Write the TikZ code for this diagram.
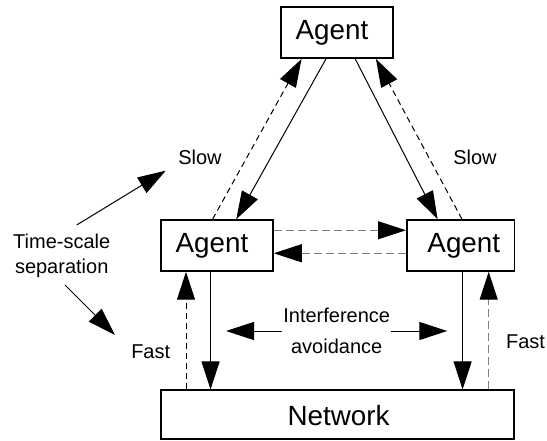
\documentclass[tikz,border=0pt]{standalone}
\usepackage{fontspec}
\setmainfont{Liberation Sans}
\usetikzlibrary{arrows.meta}
\begin{document}
\begin{tikzpicture}[x=1pt,y=-1pt,
  box/.style={draw,line width=1.5pt,minimum height=51pt,inner sep=0pt},
  bigtext/.style={font=\fontsize{27.8}{30}\selectfont},
  smalltext/.style={font=\fontsize{20}{25}\selectfont,inner sep=1pt},
  tip/.style={-{Triangle[length=28pt,width=18pt,black]}},
  solidlink/.style={tip,line width=1pt},
  dashlink/.style={tip,line width=1pt,dash pattern=on 6pt off 4pt},
  graylink/.style={tip,line width=1pt,draw=black!50,dash pattern=on 8pt off 4pt}
]
\useasboundingbox (0,0) rectangle (547,441);

% agents and network
\node[box,minimum width=112pt,label={[bigtext,xshift=-5pt]center:Agent}] (top) at (337,32.7) {};
\node[box,minimum width=112pt,label={[bigtext,xshift=-5pt]center:Agent}] (left) at (217,245.5) {};
\node[box,minimum width=107.5pt,label={[bigtext,xshift=3.3pt]center:Agent}] (right) at (460.5,245.5) {};
\node[box,minimum width=353pt,minimum height=49pt,label={[bigtext,xshift=1pt,yshift=-1pt]center:Network}] (net) at (337.5,414.7) {};

% slow links between the upper agent and the lower agents
\draw[solidlink] ([xshift=45.7pt]top.south west) -- ([xshift=76pt]left.north west);
\draw[dashlink] ([xshift=52.3pt]left.north west) -- ([xshift=21.3pt]top.south west);
\draw[solidlink] ([xshift=75pt]top.south west) -- ([xshift=31.6pt]right.north west);
\draw[dashlink] ([xshift=56pt]right.north west) -- ([xshift=95.7pt]top.south west);

% links between the lower agents
\draw[graylink] ([yshift=-11pt]left.north east) -- ([yshift=-11pt]right.north west);
\draw[graylink] ([yshift=-34pt]right.north west) -- ([yshift=-34pt]left.north east);

% fast links to the network
\draw[solidlink] ([xshift=50.3pt]left.south west) coordinate (ls) -- (ls |- net.north);
\draw[dashlink] (net.north -| 186,0) coordinate (ln) -- (ln |- left.south);
\draw[solidlink] ([xshift=56.6pt]right.south west) coordinate (rs) -- (rs |- net.north);
\draw[graylink] (net.north -| 488.7,0) coordinate (rn) -- (rn |- right.south);

% labels
\node[smalltext] (slowl) at (200,157) {Slow};
\node[smalltext] (slowr) at (475,157) {Slow};
\node[smalltext] (fastl) at (150.7,351.7) {Fast};
\node[smalltext] (fastr) at (525.5,341.7) {Fast};
\node[smalltext,align=center] (ts) at (61.7,256) {Time-scale\\separation};
\node[smalltext,font=\fontsize{20}{31}\selectfont,align=center] (intf) at (336.7,330.5) {Interference\\avoidance};

% time-scale arrows
\coordinate (tsu) at (76.7,225);
\coordinate (tsue) at (165.7,170.7);
\coordinate (tsd) at (65,285);
\coordinate (tsde) at (115,335);
\draw[solidlink] (tsu) -- (tsue);
\draw[solidlink] (tsd) -- (tsde);

% interference arrows
\coordinate (il) at (226,331);
\coordinate (ir) at (447.3,331);
\draw[solidlink] (intf.west |- il) -- (il);
\draw[solidlink] (intf.east |- ir) -- (ir);
\end{tikzpicture}
\end{document}
